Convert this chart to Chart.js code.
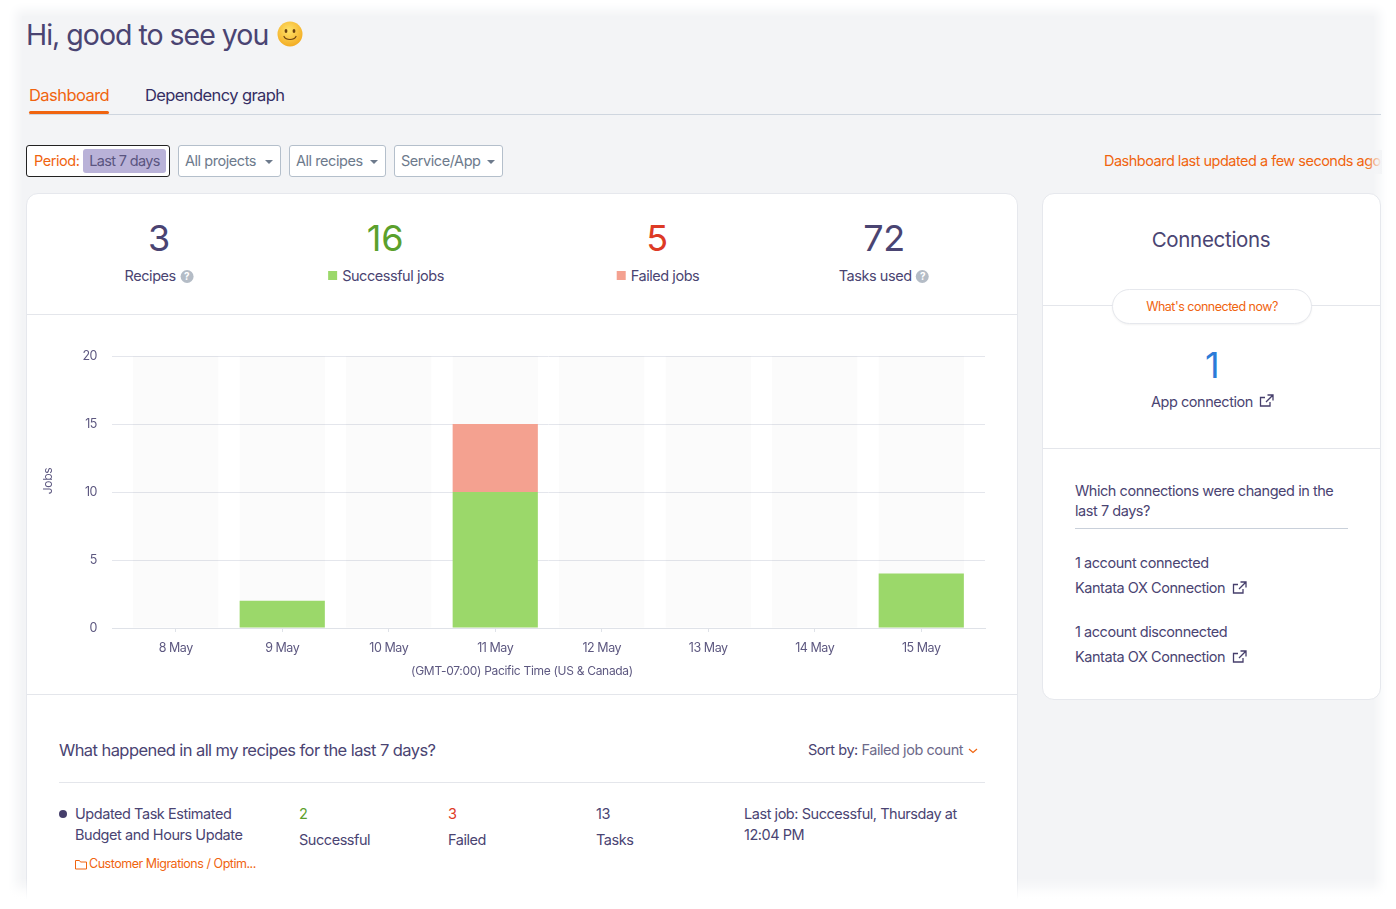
<!DOCTYPE html>
<html lang="en">
<head>
<meta charset="UTF-8" />
<title>Dashboard</title>
<script src="https://cdn.jsdelivr.net/npm/chart.js"></script>
<style>
  html, body { margin: 0; padding: 0; background: #fff; }
  body { width: 1396px; height: 909px; overflow: hidden; position: relative; font-family: Inter, "Open Sans", sans-serif; color: #4a4472; letter-spacing: -0.45px; }
  .abs { position: absolute; white-space: nowrap; line-height: 1; }
  .ctr { transform: translateX(-50%); }
  #panel { position: absolute; left: 22px; top: 16px; width: 1352px; height: 872px; background: #f3f4f6; box-shadow: 0 0 10px 6px #f3f4f6; }
  .card { position: absolute; background: #fff; border: 1px solid #e6e8ed; border-radius: 12px; box-sizing: border-box; }
  .line { position: absolute; height: 1px; background: #e4e6eb; }
  .filter { position: absolute; top: 145px; height: 32px; box-sizing: border-box; background: #fff; border: 1px solid #b4bfcb; border-radius: 3px; font-size: 14.5px; color: #6d7a8c; line-height: 30px; padding-left: 6px; white-space: nowrap; }
  .filter i { position: absolute; right: 7px; top: 14px; width: 0; height: 0; border-left: 4px solid transparent; border-right: 4px solid transparent; border-top: 4px solid #6d7a8c; }
  .orange { color: #f0640f; }
  .stat { font-size: 36px; font-weight: 400; letter-spacing: -0.3px; }
  .lbl { font-size: 14.5px; }
  .q { display: inline-block; width: 13px; height: 13px; border-radius: 50%; background: #b4bcc6; color: #fff; font-size: 10px; line-height: 13px; text-align: center; font-weight: 700; letter-spacing: 0; vertical-align: 1px; margin-left: 1px; }
  .sq { display: inline-block; width: 9px; height: 9px; margin-right: 5px; vertical-align: 1px; }
  #fadeBottom { position: absolute; left: 0; top: 878px; width: 1396px; height: 31px; background: linear-gradient(rgba(255,255,255,0), #fff 70%); }
  #fadeRight { position: absolute; left: 1366px; top: 150px; width: 16px; height: 24px; background: linear-gradient(90deg, rgba(243,244,246,0), #f3f4f6); }
  #chartBox { position: absolute; left: 28px; top: 316px; width: 988px; height: 378px; }
  .axisText { color: #5d5880; font-size: 12px; letter-spacing: -0.3px; }
</style>
</head>
<body>
<div id="panel"></div>

<div class="abs" style="left:26px;top:21px;font-size:28.5px;letter-spacing:-1px;">Hi, good to see you</div>
<svg class="abs" style="left:277px;top:21px" width="26" height="26" viewBox="0 0 26 26">
  <defs><radialGradient id="face" cx="45%" cy="35%" r="70%"><stop offset="0%" stop-color="#ffe36a"/><stop offset="100%" stop-color="#f2a81d"/></radialGradient></defs>
  <circle cx="13" cy="13" r="12.5" fill="url(#face)"/>
  <ellipse cx="9" cy="10" rx="1.4" ry="2" fill="#6b4210"/><ellipse cx="17" cy="10" rx="1.4" ry="2" fill="#6b4210"/>
  <path d="M7 15.5c2 4 10 4 12 0" fill="none" stroke="#6b4210" stroke-width="1.2" stroke-linecap="round"/>
</svg>

<div class="abs orange" style="left:29px;top:87px;font-size:16.5px;letter-spacing:-0.55px;">Dashboard</div>
<div class="abs" style="left:145px;top:87px;font-size:16.5px;color:#352e63;letter-spacing:-0.6px;">Dependency graph</div>
<div class="line" style="left:29px;top:114px;width:1352px;background:#cfd6df;"></div>
<div class="abs" style="left:29px;top:111px;width:80px;height:3px;background:#f0640f;border-radius:2px;"></div>

<div class="filter" style="left:26px;width:144px;border-color:#222;color:#f0640f;padding-left:7px;">Period:
  <span style="position:absolute;left:56px;top:3px;width:83px;height:24px;background:#b9b2d8;border-radius:3px;color:#5a5580;line-height:24px;text-align:center;letter-spacing:-0.65px;">Last 7 days</span></div>
<div class="filter" style="left:178px;width:103px;">All projects<i></i></div>
<div class="filter" style="left:289px;width:97px;">All recipes<i></i></div>
<div class="filter" style="left:394px;width:109px;">Service/App<i></i></div>
<div class="abs orange" style="left:1104px;top:154px;font-size:14.5px;width:278px;overflow:hidden;letter-spacing:-0.5px;">Dashboard last updated a few seconds ago</div>
<div id="fadeRight"></div>

<!-- main card -->
<div class="card" style="left:26px;top:193px;width:992px;height:722px;"></div>
<div class="abs stat ctr" style="left:159px;top:220px;">3</div>
<div class="abs lbl ctr" style="left:159px;top:269px;">Recipes <span class="q">?</span></div>
<div class="abs stat ctr" style="left:385px;top:220px;color:#5ba02c;">16</div>
<div class="abs lbl ctr" style="left:386px;top:269px;"><span class="sq" style="background:#9bd86a"></span>Successful jobs</div>
<div class="abs stat ctr" style="left:657px;top:220px;color:#dd3a25;">5</div>
<div class="abs lbl ctr" style="left:658px;top:269px;"><span class="sq" style="background:#f4a190"></span>Failed jobs</div>
<div class="abs stat ctr" style="left:884px;top:220px;">72</div>
<div class="abs lbl ctr" style="left:884px;top:269px;">Tasks used <span class="q">?</span></div>
<div class="line" style="left:27px;top:314px;width:990px;"></div>

<div id="chartBox"><canvas id="jobsChart" width="988" height="378"></canvas></div>
<div class="abs axisText" style="left:48px;top:481px;transform:translate(-50%,-50%) rotate(-90deg);">Jobs</div>
<div class="abs axisText ctr" style="left:522px;top:665px;">(GMT-07:00) Pacific Time (US &amp; Canada)</div>
<div class="line" style="left:27px;top:694px;width:990px;"></div>

<div class="abs" style="left:59px;top:742px;font-size:16.5px;letter-spacing:-0.57px;">What happened in all my recipes for the last 7 days?</div>
<div class="abs lbl" style="left:808px;top:743px;">Sort by: <span style="color:#6d6a8a">Failed job count</span></div>
<svg class="abs" style="left:968px;top:748px" width="10" height="6" viewBox="0 0 10 6"><path d="M1 1l4 3.5L9 1" fill="none" stroke="#f0640f" stroke-width="1.2"/></svg>
<div class="line" style="left:59px;top:782px;width:926px;"></div>

<div class="abs" style="left:59px;top:810px;width:8px;height:8px;border-radius:50%;background:#453e6b;"></div>
<div class="abs lbl" style="left:75px;top:807px;">Updated Task Estimated</div>
<div class="abs lbl" style="left:75px;top:828px;">Budget and Hours Update</div>
<svg class="abs" style="left:75px;top:859px" width="12" height="11" viewBox="0 0 12 11"><path d="M.5 1.5h4l1 1.5h6v7H.5z" fill="none" stroke="#f0640f" stroke-width="1"/></svg>
<div class="abs orange" style="left:89px;top:858px;font-size:12.5px;letter-spacing:-0.47px;">Customer Migrations / Optim...</div>

<div class="abs lbl" style="left:299px;top:807px;color:#5ba02c;">2</div>
<div class="abs lbl" style="left:299px;top:833px;">Successful</div>
<div class="abs lbl" style="left:448px;top:807px;color:#dd3a25;">3</div>
<div class="abs lbl" style="left:448px;top:833px;">Failed</div>
<div class="abs lbl" style="left:596px;top:807px;">13</div>
<div class="abs lbl" style="left:596px;top:833px;">Tasks</div>
<div class="abs lbl" style="left:744px;top:807px;">Last job: Successful, Thursday at</div>
<div class="abs lbl" style="left:744px;top:828px;">12:04 PM</div>

<!-- connections card -->
<div class="card" style="left:1042px;top:193px;width:339px;height:507px;"></div>
<div class="abs ctr" style="left:1211px;top:230px;font-size:20.5px;letter-spacing:-0.3px;">Connections</div>
<div class="line" style="left:1043px;top:305px;width:337px;"></div>
<div class="abs" style="left:1112px;top:289px;width:200px;height:35px;box-sizing:border-box;background:#fff;border:1px solid #e6e8ed;border-radius:18px;box-shadow:0 1px 2px rgba(0,0,0,.05);text-align:center;line-height:34px;font-size:12.5px;color:#f0640f;letter-spacing:-0.5px;">What's connected now?</div>
<div class="abs ctr" style="left:1212px;top:347px;font-size:36px;color:#2b7bd8;">1</div>
<div class="abs lbl" style="left:1151px;top:395px;">App connection</div>
<svg class="abs" style="left:1259px;top:394px" width="15" height="14" viewBox="0 0 15 14"><path d="M11 8v4H1.500V3.500H6M8.500 1H14v5.500M14 1L7 8" fill="none" stroke="#453e6b" stroke-width="1.300"/></svg>
<div class="line" style="left:1043px;top:448px;width:337px;"></div>
<div class="abs lbl" style="left:1075px;top:484px;">Which connections were changed in the</div>
<div class="abs lbl" style="left:1075px;top:504px;">last 7 days?</div>
<div class="line" style="left:1075px;top:528px;width:273px;background:#c9d0da;"></div>
<div class="abs lbl" style="left:1075px;top:556px;">1 account connected</div>
<div class="abs lbl" style="left:1075px;top:581px;">Kantata OX Connection</div>
<svg class="abs" style="left:1232px;top:581px" width="15" height="14" viewBox="0 0 15 14"><path d="M11 8v4H1.500V3.500H6M8.500 1H14v5.500M14 1L7 8" fill="none" stroke="#453e6b" stroke-width="1.300"/></svg>
<div class="abs lbl" style="left:1075px;top:625px;">1 account disconnected</div>
<div class="abs lbl" style="left:1075px;top:650px;">Kantata OX Connection</div>
<svg class="abs" style="left:1232px;top:650px" width="15" height="14" viewBox="0 0 15 14"><path d="M11 8v4H1.500V3.500H6M8.500 1H14v5.500M14 1L7 8" fill="none" stroke="#453e6b" stroke-width="1.300"/></svg>

<div id="fadeBottom"></div>

<script>
const days = ['8 May', '9 May', '10 May', '11 May', '12 May', '13 May', '14 May', '15 May'];
const successfulJobs = [0, 2, 0, 10, 0, 0, 0, 4];
const failedJobs = [0, 0, 0, 5, 0, 0, 0, 0];
const columnBackdrop = [20, 20, 20, 20, 20, 20, 20, 20];
const yTicks = [0, 5, 10, 15, 20];

const tickFont = { family: 'Inter, sans-serif', size: 12.5 };

new Chart(document.getElementById('jobsChart'), {
  type: 'bar',
  data: {
    labels: days,
    datasets: [
      { label: 'Successful', data: successfulJobs, backgroundColor: '#9bd86a', stack: 'jobs', order: 1 },
      { label: 'Failed', data: failedJobs, backgroundColor: '#f4a190', stack: 'jobs', order: 1 },
      { label: 'Backdrop', data: columnBackdrop, backgroundColor: 'rgba(40,40,60,0.018)', stack: 'backdrop', order: 2 }
    ]
  },
  options: {
    responsive: false,
    animation: false,
    grouped: false,
    barPercentage: 0.8,
    categoryPercentage: 1,
    layout: { padding: { top: 40, right: 31, left: 8, bottom: 0 } },
    plugins: { legend: { display: false }, tooltip: { enabled: false } },
    scales: {
      x: {
        stacked: true,
        // the columns sit a little inside the gridlines, so widen the category range
        afterBuildTicks: axis => { axis._valueRange = 8.197; axis._startValue = -0.5985; },
        afterFit: axis => { axis.height = 66; },
        grid: { offset: false, drawOnChartArea: false, color: '#dfe2e8', tickLength: 4 },
        border: { color: '#dfe2e8' },
        ticks: { color: '#5d5880', font: tickFont, padding: 9, maxRotation: 0 }
      },
      y: {
        stacked: true,
        min: 0,
        max: 20,
        afterBuildTicks: axis => { axis.ticks = yTicks.map(value => ({ value })); },
        afterFit: axis => { axis.width = 76; },
        grid: { color: '#e4e6ec', drawTicks: false },
        border: { display: false },
        ticks: { color: '#5d5880', font: tickFont, padding: 15 }
      }
    }
  }
});
</script>
</body>
</html>
